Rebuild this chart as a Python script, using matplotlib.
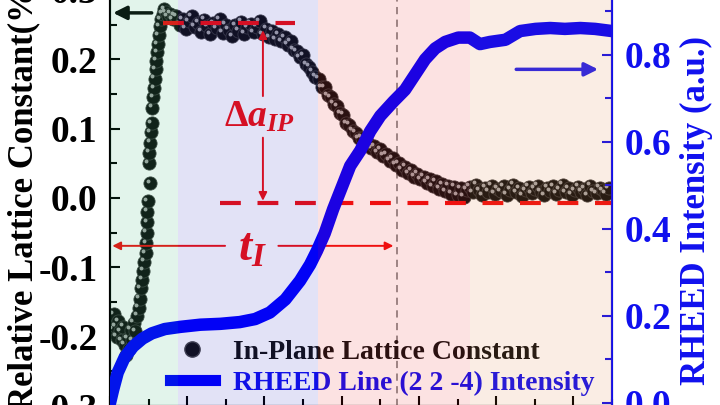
import numpy as np
import matplotlib.pyplot as plt
import matplotlib.transforms as mtrans
from matplotlib.lines import Line2D

plt.rcParams['font.family'] = 'Liberation Serif'
plt.rcParams['font.weight'] = 'bold'
plt.rcParams['axes.labelweight'] = 'bold'
plt.rcParams['axes.unicode_minus'] = False
plt.rcParams['mathtext.fontset'] = 'custom'
plt.rcParams['mathtext.it'] = 'Liberation Serif:italic:bold'
plt.rcParams['mathtext.rm'] = 'Liberation Serif:bold'

# In-plane lattice constant (%), region by region
lat_x_grow = [0.1, 0.3, 0.5, 0.7, 0.9, 1.1, 1.3, 1.5, 1.7, 1.9, 2.1, 2.3, 2.5, 2.7, 2.9,
              3.1, 3.3, 3.5, 3.7, 3.85, 4.0, 4.15, 4.3, 4.45, 4.6, 4.7, 4.75, 4.8, 4.85,
              4.9, 5.2, 5.0, 5.1, 5.2, 5.3, 5.4, 5.5, 5.6, 5.7, 5.8, 5.9, 6.0, 6.1, 6.2,
              6.3, 6.45, 6.6, 6.8, 7.0, 7.2, 7.5, 7.8, 8.1, 8.4]
lat_y_grow = [-0.175, -0.19, -0.168, -0.185, -0.20, -0.178, -0.192, -0.205, -0.186, -0.212,
              -0.226, -0.202, -0.218, -0.19, -0.205, -0.18, -0.192, -0.17, -0.158, -0.145,
              -0.13, -0.118, -0.105, -0.092, -0.08, -0.065, -0.05, -0.035, -0.02,
              -0.005, 0.021, 0.05, 0.065, 0.08, 0.095, 0.108, 0.13, 0.145, 0.158, 0.172,
              0.186, 0.198, 0.21, 0.222, 0.235, 0.248, 0.258, 0.266, 0.272, 0.268, 0.262,
              0.266, 0.258, 0.263]
lat_x_flat = [8.6, 9.0, 9.4, 9.8, 10.2, 10.6, 11.0, 11.4, 11.8, 12.2, 12.6, 13.0, 13.4,
              13.8, 14.2, 14.6, 15.0, 15.4, 15.8, 16.2, 16.6, 17.0, 17.4, 17.8, 18.2,
              18.6, 19.0, 19.4, 19.8, 20.2, 20.6, 21.0, 21.4, 21.8, 22.2, 22.6, 23.0,
              23.4, 23.8]
lat_y_flat = [0.262, 0.250, 0.258, 0.244, 0.255, 0.262, 0.247, 0.253, 0.240, 0.257, 0.248,
              0.236, 0.252, 0.245, 0.258, 0.238, 0.250, 0.243, 0.233, 0.249, 0.241, 0.254,
              0.237, 0.246, 0.251, 0.239, 0.247, 0.255, 0.236, 0.244, 0.232, 0.241, 0.229,
              0.236, 0.226, 0.232, 0.221, 0.226, 0.214]
lat_x_drop = [24.2, 24.6, 25.0, 25.4, 25.8, 26.2, 26.6, 27.0, 27.4, 27.8, 28.2, 28.6, 29.0,
              29.4, 29.8, 30.2, 30.6, 31.0, 31.4, 31.8, 32.2, 32.6, 33.0, 33.4, 33.8, 34.2,
              34.6, 35.0, 35.4, 35.8, 36.2, 36.6, 37.0, 37.4, 37.8, 38.2, 38.6, 39.0, 39.4,
              39.8, 40.2, 40.6, 41.0, 41.4, 41.8, 42.2, 42.6, 43.0, 43.4, 43.8, 44.2, 44.6,
              45.0, 45.4, 45.8, 46.2]
lat_y_drop = [0.212, 0.203, 0.206, 0.193, 0.189, 0.182, 0.175, 0.172, 0.160, 0.160, 0.148,
              0.145, 0.136, 0.132, 0.122, 0.120, 0.108, 0.106, 0.097, 0.094, 0.086, 0.087,
              0.078, 0.080, 0.072, 0.075, 0.066, 0.070, 0.061, 0.063, 0.054, 0.057, 0.048,
              0.050, 0.041, 0.045, 0.036, 0.040, 0.031, 0.035, 0.027, 0.031, 0.022, 0.027,
              0.017, 0.024, 0.013, 0.020, 0.010, 0.018, 0.006, 0.016, 0.004, 0.014, 0.002,
              0.012]
lat_x_end = [46.6, 47.0, 47.4, 47.8, 48.2, 48.6, 49.0, 49.4, 49.8, 50.2, 50.6, 51.0, 51.4,
             51.8, 52.2, 52.6, 53.0, 53.4, 53.8, 54.2, 54.6, 55.0, 55.4, 55.8, 56.2, 56.6,
             57.0, 57.4, 57.8, 58.2, 58.6, 59.0, 59.4, 59.8, 60.2, 60.6, 61.0, 61.4, 61.8,
             62.2, 62.6, 63.0, 63.4, 63.8, 64.2, 64.6]
lat_y_end = [0.016, 0.008, 0.019, 0.011, 0.004, 0.015, 0.009, 0.018, 0.006, 0.013, 0.010,
             0.017, 0.005, 0.012, 0.019, 0.008, 0.014, 0.003, 0.011, 0.016, 0.007, 0.013,
             0.018, 0.009, 0.004, 0.015, 0.010, 0.017, 0.006, 0.012, 0.019, 0.008, 0.014,
             0.005, 0.011, 0.016, 0.009, 0.013, 0.004, 0.018, 0.010, 0.007, 0.015, 0.011,
             0.006, 0.014]

# RHEED (2 2 -4) line intensity (a.u.)
rheed_x = [0.0, 0.4, 1.0, 1.9, 3.0, 4.2, 5.4, 7.1, 9.1, 11.7, 14.3, 16.8, 18.8, 20.7, 22.7,
           24.6, 25.9, 26.8, 27.8, 28.9, 30.1, 31.1, 32.4, 33.7, 35.0, 36.7, 38.2, 39.5,
           40.8, 42.1, 43.4, 45.1, 46.6, 47.9, 49.2, 51.2, 53.1, 55.1, 57.0, 58.9, 60.9,
           62.8, 65.0]
rheed_y = [0.0, 0.03, 0.07, 0.105, 0.13, 0.148, 0.16, 0.17, 0.175, 0.18, 0.182, 0.186,
           0.193, 0.208, 0.238, 0.281, 0.318, 0.35, 0.39, 0.446, 0.50, 0.545, 0.58, 0.625,
           0.66, 0.693, 0.72, 0.755, 0.79, 0.815, 0.83, 0.84, 0.84, 0.825, 0.83, 0.835,
           0.855, 0.86, 0.862, 0.86, 0.862, 0.86, 0.855]

stages = [(0, 8.8, '#16ac61'), (8.8, 26.9, '#1616bc'), (26.9, 46.6, '#ee1616'), (46.6, 65, '#de7126')]

lat_x = np.array(lat_x_grow + lat_x_flat + lat_x_drop + lat_x_end)
lat_y = np.array(lat_y_grow + lat_y_flat + lat_y_drop + lat_y_end)

red = '#f01010'
blue = '#1010ee'

fig = plt.figure(figsize=(7.2, 4.05), dpi=100)
ax = fig.add_axes([110 / 720, -1 / 405, 502 / 720, 416 / 405])
ax2 = ax.twinx()

# lattice constant: dark spheres with a small highlight
ax.scatter(lat_x, lat_y, s=90, color='#111111', edgecolor='#3c3c3c', linewidth=0.6, zorder=3)
shift = mtrans.offset_copy(ax.transData, fig=fig, x=-1.8, y=1.8, units='points')
ax.scatter(lat_x, lat_y, s=8, color='#a8a8a8', linewidth=0, transform=shift, zorder=3.5)

ax2.plot(rheed_x, rheed_y, color='#0000ff', lw=9, solid_capstyle='round', zorder=3)

# annotations
ax.plot([6.9, 24.0], [0.253, 0.253], color=red, lw=3, dashes=(5, 4), zorder=6)
ax.plot([14.2, 65], [-0.007, -0.007], color=red, lw=3, dashes=(5, 4), zorder=6)
ax.axvline(37.2, color='#8a8a8a', lw=1.3, dashes=(4, 3), zorder=2)
arr = dict(arrowstyle='-|>', color=red, lw=1.4, mutation_scale=12, shrinkA=0, shrinkB=0)
ax.annotate('', xy=(19.8, 0.242), xytext=(19.8, 0.147), arrowprops=arr, zorder=6)
ax.annotate('', xy=(19.8, -0.004), xytext=(19.8, 0.087), arrowprops=arr, zorder=6)
ax.annotate('', xy=(0.3, -0.069), xytext=(14.9, -0.069), arrowprops=arr, zorder=6)
ax.annotate('', xy=(36.7, -0.069), xytext=(21.8, -0.069), arrowprops=arr, zorder=6)
ax.text(19.4, 0.117, r'$\Delta a_{IP}$', color=red, fontsize=27, ha='center', va='center', zorder=6)
ax.text(18.5, -0.074, r'$t_I$', color=red, fontsize=34, ha='center', va='center', zorder=6)
ax.annotate('', xy=(0.4, 0.267), xytext=(5.4, 0.267),
            arrowprops=dict(arrowstyle='-|>', color='#0a0a0a', lw=2.5, mutation_scale=20,
                            shrinkA=0, shrinkB=0), zorder=6)
ax2.annotate('', xy=(63.2, 0.767), xytext=(52.6, 0.767),
             arrowprops=dict(arrowstyle='-|>', color='#2222ee', lw=2.5, mutation_scale=20,
                             shrinkA=0, shrinkB=0), zorder=6)

# growth stages, laid over everything like a tinted film
for x0, x1, c in stages:
    ax2.axvspan(x0, x1, color=c, alpha=0.12, lw=0, zorder=10)

handles = [Line2D([], [], marker='o', ls='none', markersize=11, markerfacecolor='#111111',
                  markeredgecolor='#444444'),
           Line2D([], [], color='#0000ff', lw=8)]
ax2.legend(handles, ['In-Plane Lattice Constant', 'RHEED Line (2 2 -4) Intensity'],
           loc='lower left', bbox_to_anchor=(0.12, 0.024), frameon=False, fontsize=20,
           labelcolor=['#111111', blue], handlelength=1.6, handletextpad=0.65,
           labelspacing=0.2, borderpad=0, borderaxespad=0)

ax.set_xlim(0, 65)
ax.set_ylim(-0.3, 0.3)
ax2.set_ylim(-0.0069, 0.9494)
ax.set_xticks(np.arange(0, 66, 10))
ax.set_xticks(np.arange(5, 66, 10), minor=True)
ax.set_yticks(np.arange(-0.3, 0.31, 0.1))
ax.set_yticks(np.arange(-0.25, 0.3, 0.1), minor=True)
ax2.set_yticks(np.arange(0, 0.95, 0.2))
ax2.set_yticks(np.arange(0.1, 0.95, 0.2), minor=True)
ax.yaxis.set_major_formatter(plt.FormatStrFormatter('%.1f'))
ax2.yaxis.set_major_formatter(plt.FormatStrFormatter('%.1f'))

ax.tick_params(which='both', direction='in', width=1.5, labelsize=27, pad=9)
ax.tick_params(which='major', length=7)
ax.tick_params(which='minor', length=5)
ax.tick_params(axis='x', labelbottom=False)
ax2.tick_params(which='both', direction='in', width=1.5, labelsize=27, pad=9,
                colors=blue)
ax2.tick_params(which='major', length=7)
ax2.tick_params(which='minor', length=5)

for s in ax.spines.values():
    s.set_linewidth(1.5)
for s in ax2.spines.values():
    s.set_linewidth(1.5)
ax2.spines['right'].set_color(blue)

ax.set_ylabel('Relative Lattice Constant(%)', fontsize=25)
ax.yaxis.set_label_coords(-0.139, 0.51)
ax2.set_ylabel('RHEED Intensity (a.u.)', fontsize=25, color=blue)
ax2.yaxis.set_label_coords(1.135, 0.47)

fig.savefig('out.png', dpi=100)
